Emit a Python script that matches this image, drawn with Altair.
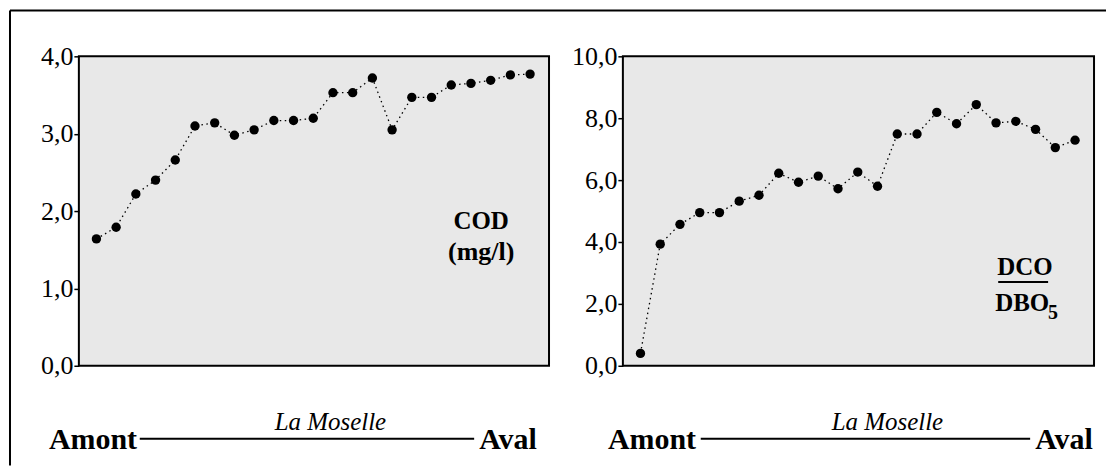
import altair as alt
import pandas as pd

# ---- data ----
stations = list(range(23))
cod = [1.64, 1.79, 2.22, 2.40, 2.66, 3.10, 3.14, 2.98, 3.05, 3.17, 3.17, 3.20,
       3.53, 3.53, 3.72, 3.05, 3.47, 3.47, 3.63, 3.65, 3.69, 3.76, 3.77]
ratio = [0.40, 3.93, 4.57, 4.95, 4.95, 5.32, 5.51, 6.22, 5.93, 6.13, 5.72, 6.26,
         5.80, 7.49, 7.49, 8.19, 7.82, 8.44, 7.85, 7.90, 7.64, 7.05, 7.29]
cod_ticks = [0, 1, 2, 3, 4]
ratio_ticks = [0, 2, 4, 6, 8, 10]

FONT = "Times New Roman, Liberation Serif, DejaVu Serif, serif"
W, H = 471, 310
XDOM = [-0.89, 22.96]
LABEL_EXPR = "replace(format(datum.value, '.1f'), '.', ',')"

one = pd.DataFrame({"k": [0]})


def series_layers(df, col, ymax, ticks):
    x = alt.X("station:Q", axis=None, scale=alt.Scale(domain=XDOM, nice=False, zero=False))
    y = alt.Y(f"{col}:Q", title=None,
              scale=alt.Scale(domain=[0, ymax], nice=False),
              axis=alt.Axis(values=ticks, labelExpr=LABEL_EXPR))
    base = alt.Chart(df)
    line = base.mark_line(color="black", strokeWidth=1.3, strokeDash=[1.5, 3.5]).encode(x=x, y=y)
    pts = base.mark_circle(color="black", opacity=1, size=88).encode(x=x, y=y)
    return [line, pts]


def text(t, x, y, size, weight="bold", style="normal", align="left"):
    return alt.Chart(one).mark_text(
        font=FONT, fontSize=size, fontWeight=weight, fontStyle=style,
        align=align, baseline="alphabetic", color="black"
    ).encode(x=alt.value(x), y=alt.value(y), text=alt.value(t))


def rule(x, x2, y, y2=None, w=2):
    enc = dict(x=alt.value(x), y=alt.value(y))
    if x2 is not None:
        enc["x2"] = alt.value(x2)
    if y2 is not None:
        enc["y2"] = alt.value(y2)
    return alt.Chart(one).mark_rule(color="black", strokeWidth=w).encode(**enc)


df_cod = pd.DataFrame({"station": stations, "cod": cod})
df_ratio = pd.DataFrame({"station": stations, "ratio": ratio})

left = alt.layer(
    *series_layers(df_cod, "cod", 4, cod_ticks),
    text("COD", 403, 173, 25, align="center"),
    text("(mg/l)", 403, 204, 26, align="center"),
    # bottom river legend
    text("Amont", -30, 393, 30),
    rule(61, 396, 383),
    text("La Moselle", 252, 374, 25, weight="normal", style="italic", align="center"),
    text("Aval", 401, 393, 30),
    # outer frame (top and left)
    rule(-69, None, -46, 410),
    rule(-69, 1029, -46),
).properties(width=W, height=H)

right = alt.layer(
    *series_layers(df_ratio, "ratio", 10, ratio_ticks),
    text("DCO", 375, 219, 25),
    rule(376, 426, 226, w=2),
    text("DBO", 373, 255, 25),
    text("5", 426, 263, 20),
    # bottom river legend
    text("Amont", -15, 393, 30),
    rule(78, 408, 383),
    text("La Moselle", 265, 374, 25, weight="normal", style="italic", align="center"),
    text("Aval", 413, 393, 30),
).properties(width=W + 1, height=H)

chart = alt.hconcat(left, right, spacing=74, bounds="flush").properties(
    padding=0, background="white"
).configure_view(
    stroke="black", strokeWidth=2, fill="#E8E8E8"
).configure_axis(
    labelFont=FONT, labelFontSize=26, labelColor="black",
    tickColor="black", tickSize=5, tickWidth=1.5,
    domain=False, grid=False, labelPadding=1
)

chart.save("out.html", embed_options={"renderer": "svg", "actions": False})
